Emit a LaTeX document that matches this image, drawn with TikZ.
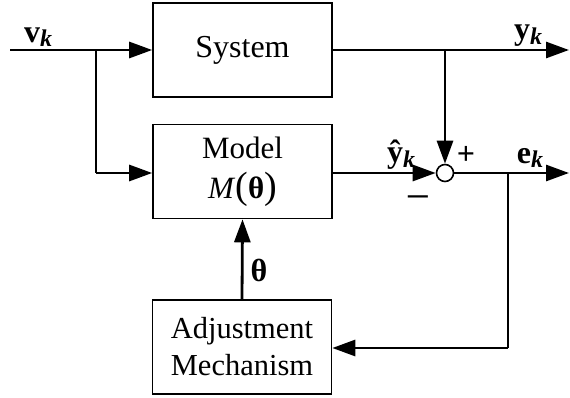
\documentclass[tikz,border=0pt]{standalone}
\usepackage{fontspec}
\setmainfont{Liberation Serif}
\usetikzlibrary{arrows.meta}
\newcommand{\sub}[1]{\raisebox{-0.3ex}{\fontsize{24}{24}\selectfont\bfseries\itshape #1}}
\newcommand{\bigparen}[1]{{\fontsize{38}{38}\selectfont #1}}
\begin{document}
\begin{tikzpicture}[x=1pt,y=-1pt,
  blockbox/.style={draw,line width=1.6pt,minimum width=179pt,minimum height=94pt,
    inner sep=0pt,align=center},
  sig/.style={line width=2.8pt},
  thin sig/.style={line width=1.9pt},
  tip/.style={-{Triangle[length=23pt,width=16pt]}},
  lbl/.style={font=\fontsize{32}{33}\selectfont\bfseries,inner sep=0pt}]
\useasboundingbox (0,0) rectangle (570,398);
% blocks
\node[blockbox,font=\fontsize{32}{34}\selectfont] (sys) at (242.5,50) {System};
\node[blockbox,font=\fontsize{31}{40}\selectfont] (mod) at (242.5,171.5)
  {Model\\\textit{M}\bigparen{(}\textbf{θ}\bigparen{)}};
\node[blockbox,font=\fontsize{30.5}{37}\selectfont] (adj) at (242,347) {Adjustment\\Mechanism};
% summing junction
\node[draw,circle,line width=1.6pt,minimum size=17pt,inner sep=0pt,fill=white] (sum) at (445,173) {};
% input and branch points
\coordinate (vin) at (10,50);
\coordinate (vsplit) at (96,50);
\coordinate (mjoin) at (96,173);
\coordinate (ysplit) at (445,50);
\coordinate (yout) at (569,50);
\coordinate (eout) at (569,173);
\coordinate (esplit) at (508,173);
\coordinate (ajoin) at (508,348);
% signal lines
\draw[sig,tip] (vin) -- (sys.west);
\draw[thin sig] (vsplit) -- (mjoin);
\draw[sig,tip] (mjoin) -- (mod.west |- mjoin);
\draw[sig,tip] (sys.east) -- (yout);
\draw[sig,tip] (ysplit) -- (sum.north);
\draw[sig,tip] (mod.east |- sum) -- (sum.west);
\draw[sig,tip] (sum.east) -- (eout);
\draw[thin sig] (esplit) -- (ajoin);
\draw[sig,tip] (ajoin) -- (adj.east |- ajoin);
\draw[sig,tip] (adj.north) -- (mod.south);
% labels
\node[lbl] (lv) at (38,37) {v\sub{k}};
\node[lbl] (ly) at (528,36) {y\sub{k}};
\node[lbl] (lyh) at (401,155) {ŷ\sub{k}};
\node[lbl] (lp) at (466,155) {+};
\node[lbl] (lm) at (418,202) {\scalebox{1.35}[1]{−}};
\node[lbl] (le) at (530,158) {e\sub{k}};
\node[lbl] (lt) at (259,270) {θ};
\end{tikzpicture}
\end{document}
